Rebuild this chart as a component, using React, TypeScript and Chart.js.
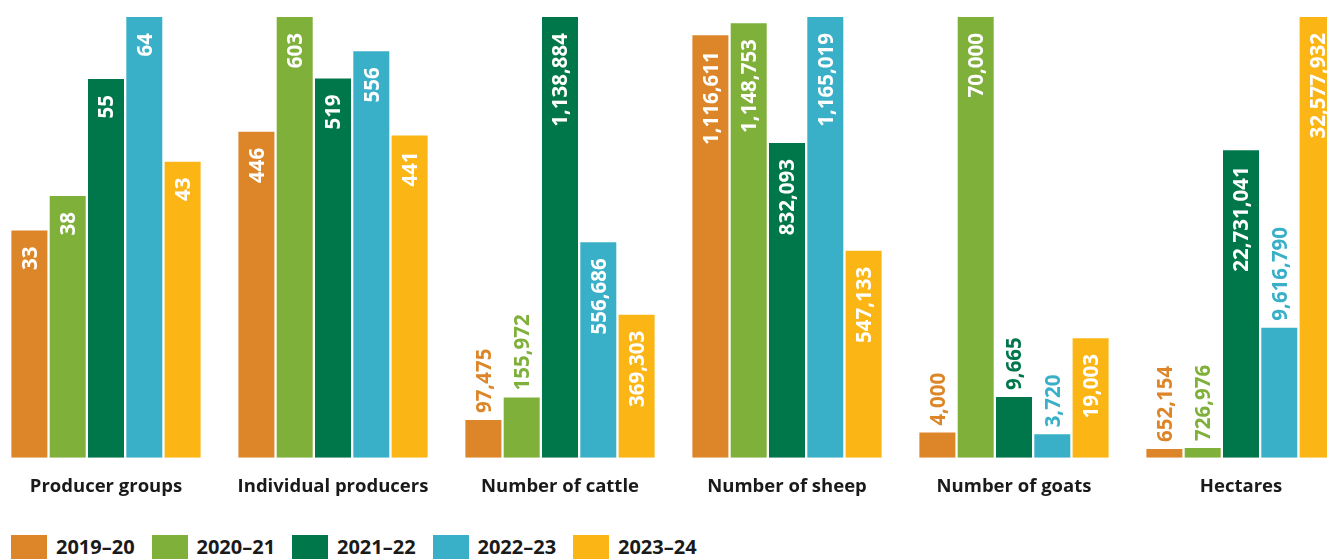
import React, { useEffect, useRef } from 'react';
import { Chart, registerables } from 'chart.js';

Chart.register(...registerables);

const categories = [
  'Producer groups',
  'Individual producers',
  'Number of cattle',
  'Number of sheep',
  'Number of goats',
  'Hectares',
];

const years = ['2019–20', '2020–21', '2021–22', '2022–23', '2023–24'];

const values2019_20 = [33, 446, 97475, 1116611, 4000, 652154];
const values2020_21 = [38, 603, 155972, 1148753, 70000, 726976];
const values2021_22 = [55, 519, 1138884, 832093, 9665, 22731041];
const values2022_23 = [64, 556, 556686, 1165019, 3720, 9616790];
const values2023_24 = [43, 441, 369303, 547133, 19003, 32577932];

const seriesByYear = [values2019_20, values2020_21, values2021_22, values2022_23, values2023_24];

const colors = ['#DD8629', '#7EB03A', '#00774A', '#3AB0C8', '#FBB616'];

const FONT = '"Open Sans", "Noto Sans", sans-serif';
const TEXT_COLOR = '#1a1a1a';

const valueLabels = {
  id: 'valueLabels',
  afterDatasetsDraw(chart: any) {
    const ctx = chart.ctx;
    const size = 20.5;
    ctx.save();
    ctx.font = `700 ${size}px ${FONT}`;
    chart.data.datasets.forEach((ds: any, di: number) => {
      const meta = chart.getDatasetMeta(di);
      meta.data.forEach((bar: any, i: number) => {
        const v = ds.data[i] as number;
        const text = v.toLocaleString('en-US');
        const w = ctx.measureText(text).width;
        const top = bar.y;
        const h = bar.base - top;
        const inside = h >= w + 50;
        ctx.save();
        if (inside) {
          ctx.translate(bar.x, top + 16);
          ctx.rotate(-Math.PI / 2);
          ctx.textAlign = 'right';
          ctx.fillStyle = '#ffffff';
        } else {
          ctx.translate(bar.x, top - 7);
          ctx.rotate(-Math.PI / 2);
          ctx.textAlign = 'left';
          ctx.fillStyle = ds.backgroundColor;
        }
        ctx.textBaseline = 'alphabetic';
        ctx.fillText(text, 0, (size * 0.714) / 2);
        ctx.restore();
      });
    });
    ctx.restore();
  },
};

function CategoryChart({ index }: { index: number }) {
  const ref = useRef<HTMLCanvasElement | null>(null);
  useEffect(() => {
    if (!ref.current) return;
    const vals = seriesByYear.map((s) => s[index]);
    const chart = new Chart(ref.current, {
      type: 'bar',
      data: {
        labels: [categories[index]],
        datasets: years.map((y, j) => ({
          label: y,
          data: [seriesByYear[j][index]],
          backgroundColor: colors[j],
          borderWidth: 0,
        })),
      },
      options: {
        animation: false,
        responsive: false,
        maintainAspectRatio: false,
        devicePixelRatio: 1,
        datasets: { bar: { categoryPercentage: 0.84, barPercentage: 0.94 } },
        layout: { padding: { top: 17, bottom: 13, left: 0, right: 0 } },
        plugins: {
          legend: { display: false },
          tooltip: { enabled: false },
          title: { display: false },
        },
        scales: {
          x: {
            grid: { display: false, drawTicks: false },
            border: { display: false },
            ticks: {
              color: TEXT_COLOR,
              font: { family: FONT, size: 18.5, weight: '700' },
              padding: 18,
              maxRotation: 0,
              minRotation: 0,
              autoSkip: false,
            },
          },
          y: {
            display: false,
            min: 0,
            max: Math.max(...vals),
          },
        },
      },
      plugins: [valueLabels],
    });
    return () => chart.destroy();
  }, [index]);
  return (
    <canvas
      ref={ref}
      width={228}
      height={529}
      style={{ position: 'absolute', left: -8 + 227 * index, top: 0, width: 228, height: 529 }}
    />
  );
}

export default function App() {
  return (
    <div
      style={{
        position: 'absolute',
        left: 0,
        top: 0,
        width: 1327,
        height: 559,
        overflow: 'hidden',
        background: '#ffffff',
      }}
    >
      {categories.map((c, i) => (
        <CategoryChart key={c} index={i} />
      ))}
      <div style={{ position: 'absolute', left: 11, top: 535, display: 'flex' }}>
        {years.map((y, j) => (
          <div key={y} style={{ width: 140.5, display: 'flex', alignItems: 'center', height: 24 }}>
            <div style={{ width: 36, height: 24, background: colors[j], marginRight: 9, flex: '0 0 auto' }} />
            <span
              style={{
                fontFamily: FONT,
                fontWeight: 700,
                fontSize: 20,
                color: TEXT_COLOR,
                lineHeight: '24px',
                whiteSpace: 'nowrap',
              }}
            >
              {y}
            </span>
          </div>
        ))}
      </div>
    </div>
  );
}
